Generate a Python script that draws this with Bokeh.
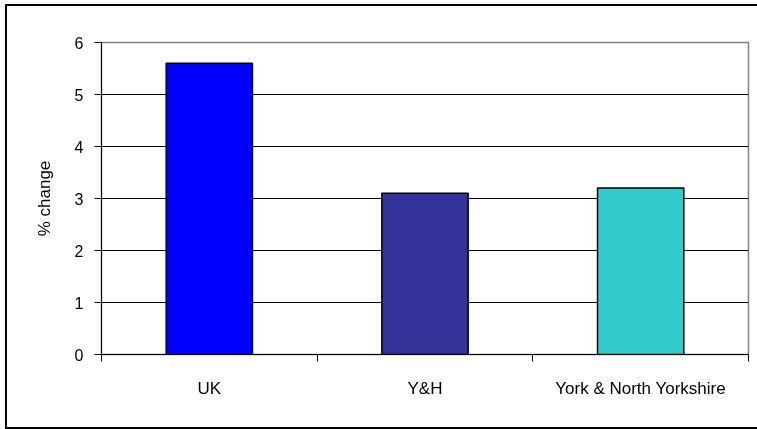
from bokeh.plotting import figure
from bokeh.models import ColumnDataSource, FixedTicker, Range1d
from bokeh.embed import file_html
from bokeh.resources import INLINE

categories = ["UK", "Y&H", "York & North Yorkshire"]
values = [5.6, 3.1, 3.2]
colors = ["#0000FF", "#333399", "#33CCCC"]
y_ticks = [0, 1, 2, 3, 4, 5, 6]

positions = [i + 0.5 for i in range(len(categories))]
src = ColumnDataSource(dict(x=positions, top=values, color=colors))

p = figure(width=750, height=421, output_backend="svg", toolbar_location=None,
           x_range=Range1d(0, len(categories)), y_range=Range1d(0, 6),
           min_border_left=94, min_border_right=9, min_border_top=36, min_border_bottom=73)

p.vbar(x="x", top="top", width=0.4, bottom=0, fill_color="color",
       line_color="black", line_width=1.5, source=src)

FONT = "Liberation Sans"

# x axis: labels at category centres, tick marks at category boundaries
xa = p.xaxis[0]
xa.ticker = FixedTicker(ticks=positions, minor_ticks=list(range(len(categories) + 1)))
xa.major_label_overrides = {pos: c for pos, c in zip(positions, categories)}
xa.major_tick_out = 0
xa.major_tick_in = 0
xa.minor_tick_out = 7
xa.minor_tick_in = 0
xa.minor_tick_line_color = "black"
xa.axis_line_color = "black"
xa.major_label_standoff = 17
xa.major_label_text_font = FONT
xa.major_label_text_font_size = "17px"
xa.major_label_text_color = "black"

ya = p.yaxis[0]
ya.ticker = FixedTicker(ticks=y_ticks)
ya.major_tick_out = 7
ya.major_tick_in = 0
ya.minor_tick_line_color = None
ya.axis_line_color = "black"
ya.major_tick_line_color = "black"
ya.major_label_standoff = 11
ya.major_label_text_font = FONT
ya.major_label_text_font_size = "16px"
ya.major_label_text_color = "black"
ya.axis_label = "% change"
ya.axis_label_text_font = FONT
ya.axis_label_text_font_size = "17px"
ya.axis_label_text_font_style = "normal"
ya.axis_label_text_color = "black"
ya.axis_label_standoff = 18

p.xgrid.visible = False
p.ygrid.ticker = FixedTicker(ticks=[1, 2, 3, 4, 5])
p.ygrid.grid_line_color = "black"
p.ygrid.grid_line_width = 1

p.outline_line_color = "#808080"
p.outline_line_width = 1.5
p.background_fill_color = "white"
p.border_fill_color = "white"

template = """
{% block postamble %}
<style>
html, body { overflow: hidden; }
#outer-frame { position: fixed; left: 5px; top: 4px; width: 800px; height: 421px;
               border: 2px solid black; box-sizing: content-box; pointer-events: none; }
#plot-holder { position: absolute; left: 7px; top: 6px; }
</style>
{% endblock %}
{% block contents %}
<div id="outer-frame"></div>
<div id="plot-holder">{{ super() }}</div>
{% endblock %}
"""

open("out.html", "w").write(file_html(p, INLINE, template=template))
